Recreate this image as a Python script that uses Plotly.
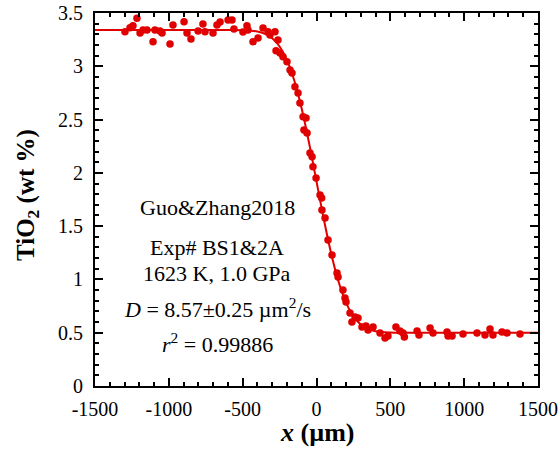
import plotly.graph_objects as go

# Measured TiO2 profile across the diffusion couple
x_um = [-1297, -1263, -1243, -1216, -1195, -1175, -1148, -1107, -1094, -1060,
        -1046, -992, -972, -897, -877, -850, -802, -769, -755, -701,
        -674, -653, -599, -572, -559, -498, -471, -464, -430, -396,
        -362, -328, -315, -281, -261, -274, -247, -227, -200, -179,
        -166, -146, -125, -112, -91, -71, -85, -64, -44, -30,
        -24, -3, 24, 35, 37, 58, 78, 105, 139, 146,
        179, 193, 200, 227, 240, 261, 281, 308, 335, 349,
        383, 430, 464, 484, 538, 565, 586, 595, 681, 694,
        769, 789, 884, 891, 918, 992, 1087, 1141, 1175, 1195,
        1256, 1290, 1378]
tio2_wt = [3.325, 3.362, 3.381, 3.450, 3.313, 3.341, 3.341, 3.231, 3.341, 3.331,
           3.313, 3.209, 3.388, 3.419, 3.313, 3.256, 3.331, 3.397, 3.325, 3.313,
           3.388, 3.416, 3.435, 3.435, 3.350, 3.322, 3.381, 3.341, 3.231, 3.266,
           3.359, 3.325, 3.294, 3.325, 3.247, 3.146, 3.125, 3.090, 3.043, 2.965,
           2.937, 2.809, 2.750, 2.656, 2.527, 2.515, 2.402, 2.374, 2.186, 2.152,
           2.058, 1.952, 1.792, 1.764, 1.652, 1.577, 1.370, 1.229, 1.060, 1.023,
           0.901, 0.826, 0.788, 0.685, 0.601, 0.647, 0.638, 0.554, 0.563, 0.526,
           0.554, 0.497, 0.450, 0.469, 0.554, 0.516, 0.497, 0.460, 0.516, 0.479,
           0.544, 0.497, 0.507, 0.469, 0.469, 0.488, 0.497, 0.479, 0.535, 0.479,
           0.507, 0.497, 0.488]

# Fitted diffusion profile
fit_x = [-1500, -1000, -600, -500, -400, -350, -300, -250, -200, -150, -100, -50,
         0, 50, 100, 150, 200, 250, 300, 350, 400, 500, 600, 1000, 1500]
fit_y = [3.34, 3.34, 3.34, 3.338, 3.326, 3.305, 3.264, 3.186, 3.057, 2.864, 2.601, 2.278,
         1.92, 1.562, 1.239, 0.976, 0.783, 0.654, 0.576, 0.535, 0.514, 0.502, 0.50, 0.50, 0.50]

x_ticks = [-1500, -1000, -500, 0, 500, 1000, 1500]
x_tick_text = ["-1500", "-1000", "-500", "0", "500", "1000", "1500"]
y_ticks = [0, 0.5, 1, 1.5, 2, 2.5, 3, 3.5]
y_tick_text = ["0", "0.5", "1", "1.5", "2", "2.5", "3", "3.5"]

info_lines = [
    "Guo&Zhang2018",
    "Exp# BS1&2A",
    "1623 K, 1.0 GPa",
    "<i>D</i> = 8.57±0.25 µm<sup>2</sup>/s",
    "<i>r</i><sup>2</sup> = 0.99886",
]
info_y = [207, 247, 273, 308, 343]  # pixel rows of the info block

RED = "rgb(224,0,0)"
FONT = "Liberation Serif"
W, H = 559, 453
ML, MR, MT, MB = 95, 21, 13, 67

fig = go.Figure()
fig.add_trace(go.Scatter(x=fit_x, y=fit_y, mode="lines",
                         line=dict(color=RED, width=2, shape="spline"),
                         hoverinfo="skip"))
fig.add_trace(go.Scatter(x=x_um, y=tio2_wt, mode="markers",
                         marker=dict(color=RED, size=7.5, line=dict(width=0))))

axis_common = dict(
    showgrid=False, zeroline=False, showline=True, linecolor="black", linewidth=2,
    mirror="allticks", ticks="inside", ticklen=8, tickwidth=1.5, tickcolor="black",
    tickfont=dict(family=FONT, size=20, color="black"), automargin=False,
)
fig.update_xaxes(range=[-1500, 1500], tickvals=x_ticks, ticktext=x_tick_text,
                 ticklabelstandoff=4,
                 minor=dict(dtick=100, ticks="inside", ticklen=4, tickwidth=1.5,
                            tickcolor="black", showgrid=False),
                 **axis_common)
fig.update_yaxes(range=[0, 3.5], tickvals=y_ticks, ticktext=y_tick_text,
                 ticklabelstandoff=6,
                 minor=dict(dtick=0.1, ticks="inside", ticklen=4, tickwidth=1.5,
                            tickcolor="black", showgrid=False),
                 **axis_common)

for txt, py in zip(info_lines, info_y):
    fig.add_annotation(x=217, y=py, text=txt,
                       showarrow=False, font=dict(family=FONT, size=22, color="black"),
                       xanchor="center", yanchor="middle")

fig.add_annotation(text="<b><i>x</i> (µm)</b>", x=316.5, y=432, showarrow=False,
                   font=dict(family=FONT, size=26, color="black"),
                   xanchor="center", yanchor="middle")
fig.add_annotation(text="<b>TiO<sub>2</sub> (wt %)</b>", x=27, y=195, showarrow=False,
                   textangle=-90, font=dict(family=FONT, size=25, color="black"),
                   xanchor="center", yanchor="middle")

# convert pixel placements of annotations into paper coordinates
pw = W - ML - MR
ph = H - MT - MB
for ann in fig.layout.annotations:
    ann.x = (ann.x - ML) / pw
    ann.y = (H - MB - ann.y) / ph
    ann.xref = "paper"
    ann.yref = "paper"

fig.update_layout(
    width=W, height=H, margin=dict(l=ML, r=MR, t=MT, b=MB, autoexpand=False),
    plot_bgcolor="white", paper_bgcolor="white", showlegend=False,
)
fig.write_html("out.html")
